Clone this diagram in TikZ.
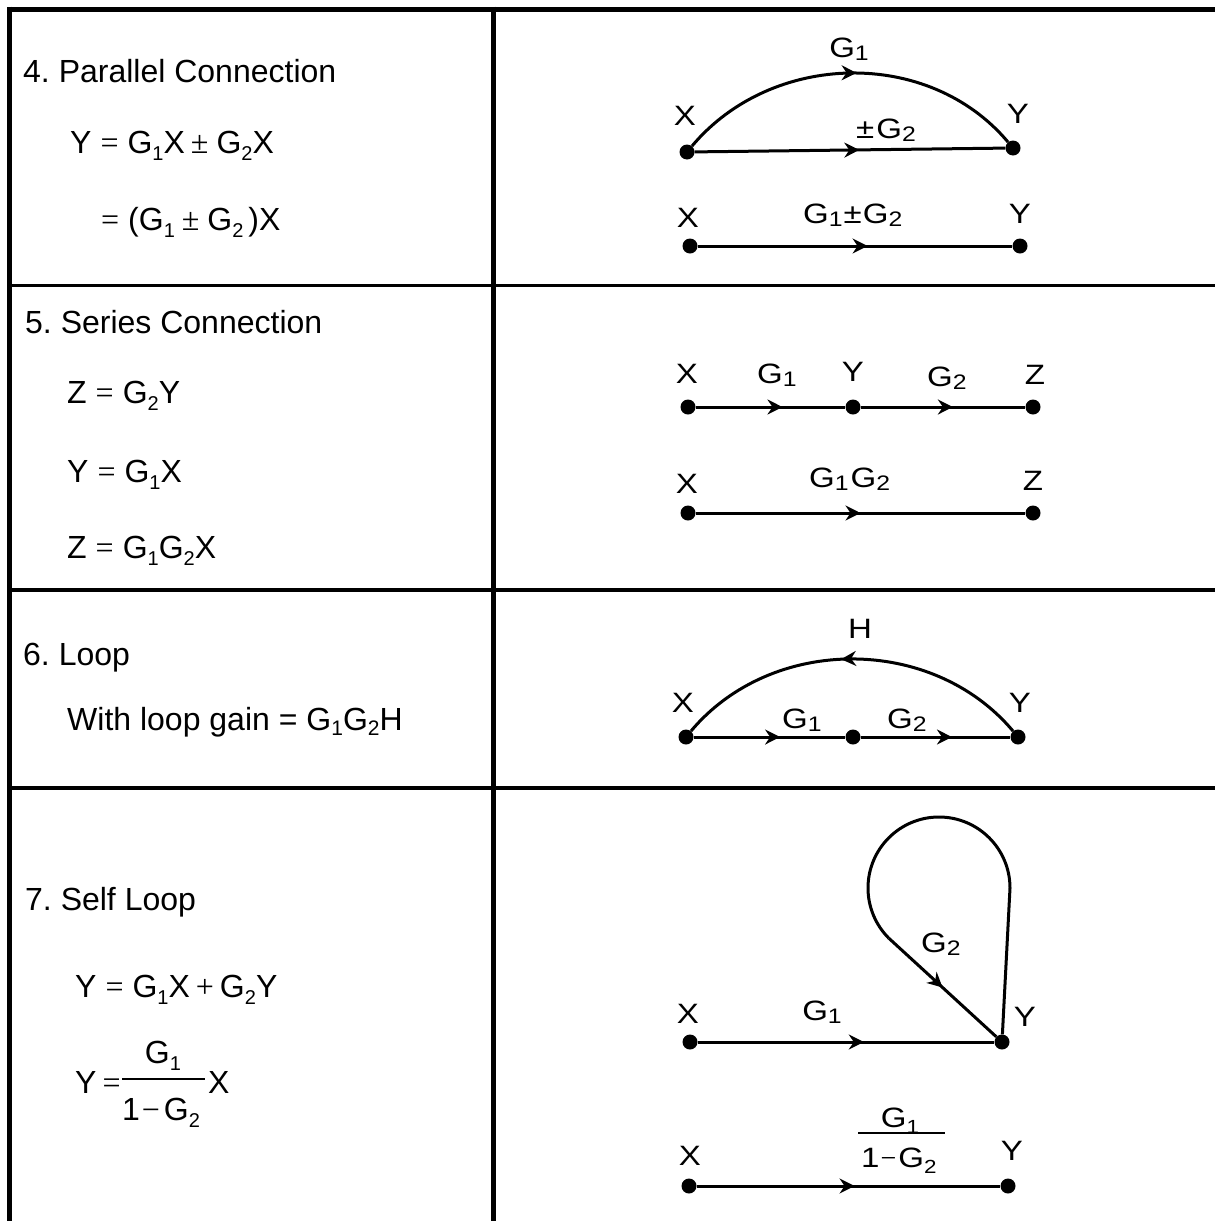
\documentclass[tikz,border=0pt]{standalone}
\usepackage{fontspec}
\setmainfont{Liberation Sans}
\newfontfamily\symf{Liberation Serif}
\newfontfamily\dfont[FakeStretch=1.18]{Liberation Sans}
\usetikzlibrary{arrows.meta,decorations.markings}
\frenchspacing

\newcommand{\lsb}[1]{\raisebox{-7pt}{\fontsize{20}{20}\selectfont #1}}
\newcommand{\dsb}[1]{\raisebox{-3pt}{\fontsize{21}{21}\selectfont #1}}
\newcommand{\fsb}[1]{\raisebox{-6pt}{\fontsize{19}{19}\selectfont #1}}
\newcommand{\tsb}[1]{\raisebox{-5pt}{\fontsize{21}{21}\selectfont #1}}
\newcommand{\eqs}{{\symf =}}
\newcommand{\pms}{{\symf ±}}
\newcommand{\pls}{{\symf +}}
\newcommand{\mns}{{\symf −}}

\tikzset{
  lbl/.style={inner sep=0pt, font=\fontsize{32}{38}\selectfont, anchor=base west},
  lblc/.style={lbl, anchor=base},
  dl/.style={inner sep=0pt, font=\dfont\fontsize{28}{33}\selectfont, anchor=base},
  dlw/.style={dl, anchor=base west},
  dot/.style={circle, fill=black, inner sep=0pt, minimum size=15pt},
  gridline/.style={line width=5pt},
  sepline/.style={line width=3.8pt},
  edge/.style={line width=3pt, line join=round},
  midarrow/.style={postaction={decorate}, decoration={markings,
    mark=at position #1 with {\arrow{Stealth[length=15pt,width=15pt,inset=5pt]}}}},
}

\begin{document}
\begin{tikzpicture}[x=1pt,y=1pt]
\useasboundingbox (0,0) rectangle (1215,-1221);

% table
\draw[gridline] (7,-9.2) -- (1215,-9.2);
\draw[gridline] (9.2,-6.7) -- (9.2,-1221);
\draw[gridline] (493.7,-6.7) -- (493.7,-1221);
\draw[sepline] (7,-285.5) -- (1215,-285.5);
\draw[sepline] (7,-590) -- (1215,-590);
\draw[sepline] (7,-788) -- (1215,-788);

% ---------- left column ----------
\node[lbl] (t4) at (23,-82) {4. Parallel Connection};
\node[lbl] (e4a) at (70,-153) {Y\hspace{9pt}\eqs\hspace{9pt}G\lsb{1}X\hspace{6pt}\pms\hspace{8pt}G\lsb{2}X};
\node[lbl] (e4b) at (101,-230) {\eqs\hspace{9pt}(G\lsb{1}\hspace{7pt}\pms\hspace{8pt}G\lsb{2}\hspace{5pt})X};

\node[lbl] (t5) at (25,-333) {5. Series Connection};
\node[lbl] (e5a) at (67,-403) {Z\hspace{9pt}\eqs\hspace{9pt}G\lsb{2}Y};
\node[lbl] (e5b) at (67,-482) {Y\hspace{9pt}\eqs\hspace{9pt}G\lsb{1}X};
\node[lbl] (e5c) at (67,-558) {Z\hspace{9pt}\eqs\hspace{9pt}G\lsb{1}G\lsb{2}X};

\node[lbl] (t6) at (23,-665) {6. Loop};
\node[lbl] (e6) at (67,-730) {With loop gain = G\tsb{1}G\tsb{2}H};

\node[lbl] (t7) at (25,-910) {7. Self Loop};
\node[lbl] (e7a) at (75,-997) {Y\hspace{9pt}\eqs\hspace{9pt}G\lsb{1}X\hspace{6pt}\pls\hspace{6pt}G\lsb{2}Y};
\node[lbl] (e7b) at (75,-1093) {Y\hspace{6pt}\eqs};
\node[lblc] (e7n) at (163,-1063) {G\lsb{1}};
\node[lblc] (e7d) at (161,-1120) {1\hspace{2pt}\mns\hspace{4pt}G\lsb{2}};
\node[lbl] (e7x) at (208,-1093) {X};
\draw[line width=1.8pt] (122,-1079) -- (205,-1079);

% ---------- row 4 diagram ----------
\node[dot] (X4a) at (687,-152) {};
\node[dot] (Y4a) at (1013,-148) {};
\node[dot] (X4b) at (690,-246) {};
\node[dot] (Y4b) at (1020,-246) {};
\draw[edge, midarrow=0.52] (X4a) to[out=50,in=130] (Y4a);
\draw[edge, midarrow=0.53] (X4a) -- (Y4a);
\draw[edge, midarrow=0.54] (X4b) -- (Y4b);
\node[dl] (l4g1) at (849,-57) {G\dsb{1}};
\node[dl] (l4x) at (685,-125) {X};
\node[dl] (l4y) at (1018,-123) {Y};
\node[dlw] (l4g2) at (856,-138) {±\hspace{2pt}G\dsb{2}};
\node[dl] (l4x2) at (688,-227) {X};
\node[dl] (l4y2) at (1020,-223) {Y};
\node[dlw] (l4s) at (803,-223) {G\dsb{1}\hspace{1pt}±\hspace{1pt}G\dsb{2}};

% ---------- row 5 diagram ----------
\node[dot] (X5a) at (688,-407) {};
\node[dot] (M5a) at (853,-407) {};
\node[dot] (Z5a) at (1033,-407) {};
\node[dot] (X5b) at (688,-513) {};
\node[dot] (Z5b) at (1033,-513) {};
\draw[edge, midarrow=0.58] (X5a) -- (M5a);
\draw[edge, midarrow=0.56] (M5a) -- (Z5a);
\draw[edge, midarrow=0.50] (X5b) -- (Z5b);
\node[dl] (l5x) at (687,-383) {X};
\node[dlw] (l5g1) at (757,-383) {G\dsb{1}};
\node[dl] (l5y) at (853,-381) {Y};
\node[dlw] (l5g2) at (927,-386) {G\dsb{2}};
\node[dl] (l5z) at (1035,-384) {Z};
\node[dl] (l5x2) at (687,-493) {X};
\node[dlw] (l5gg) at (809,-487) {G\dsb{1}\hspace{2pt}G\dsb{2}};
\node[dl] (l5z2) at (1033,-490) {Z};

% ---------- row 6 diagram ----------
\node[dot] (X6) at (686,-737) {};
\node[dot] (M6) at (853,-737) {};
\node[dot] (Y6) at (1018,-737) {};
\draw[edge, midarrow=0.57] (X6) -- (M6);
\draw[edge, midarrow=0.61] (M6) -- (Y6);
\draw[edge, midarrow=0.53] (Y6) to[out=130,in=50] (X6);
\node[dl] (l6h) at (860,-638) {H};
\node[dl] (l6x) at (683,-712) {X};
\node[dl] (l6y) at (1020,-712) {Y};
\node[dlw] (l6g1) at (782,-728) {G\dsb{1}};
\node[dlw] (l6g2) at (887,-728) {G\dsb{2}};

% ---------- row 7 diagram ----------
\node[dot] (X7a) at (690,-1042) {};
\node[dot] (Y7a) at (1002,-1042) {};
\node[dot] (X7b) at (689,-1186) {};
\node[dot] (Y7b) at (1008,-1186) {};
\coordinate (L7s) at (1010,-888);
\coordinate (L7e) at (888.8,-938.2);
\draw[edge, midarrow=0.56] (X7a) -- (Y7a);
\draw[edge] (Y7a) -- (L7s) arc[start angle=0, end angle=225, radius=71pt];
\draw[edge, midarrow=0.5] (L7e) -- (Y7a);
\draw[edge, midarrow=0.52] (X7b) -- (Y7b);
\node[dlw] (l7g2) at (921,-952) {G\dsb{2}};
\node[dl] (l7y) at (1025,-1026) {Y};
\node[dl] (l7x) at (688,-1023) {X};
\node[dl] (l7g1) at (822,-1020) {G\dsb{1}};
\node[dl] (l7x2) at (690,-1165) {X};
\node[dl] (l7y2) at (1012,-1160) {Y};
\node[dl] (l7n) at (900,-1127) {G\fsb{1}};
\node[dlw] (l7d) at (861,-1167) {1\hspace{1pt}\mns\hspace{2pt}G\fsb{2}};
\draw[line width=1.8pt] (858,-1133) -- (945,-1133);
\end{tikzpicture}
\end{document}
